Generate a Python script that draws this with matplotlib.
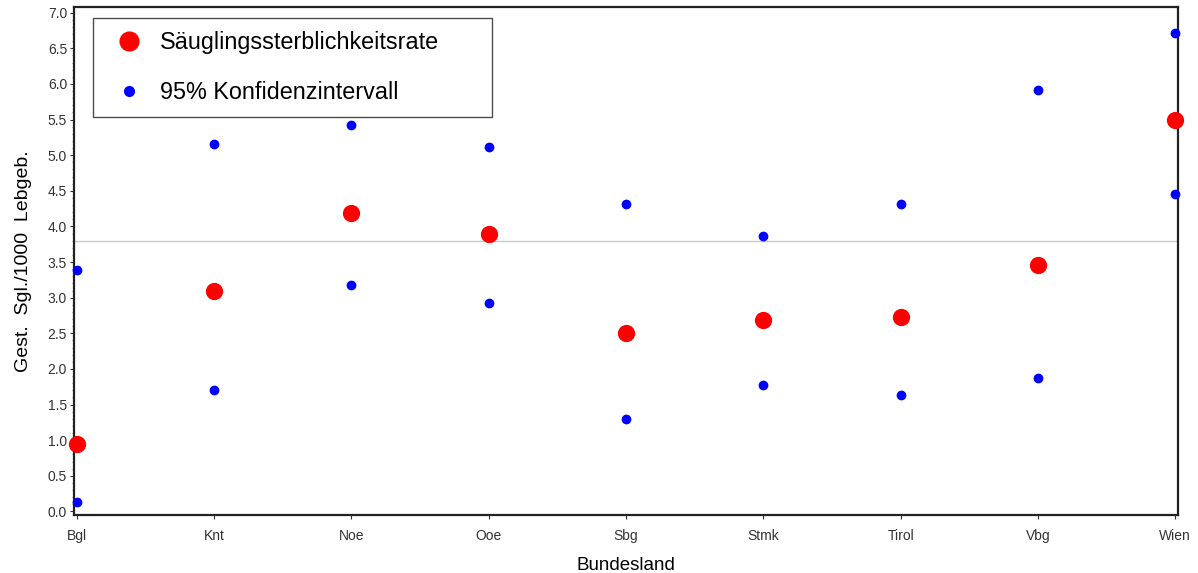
import numpy as np
import matplotlib.pyplot as plt
from matplotlib.ticker import MultipleLocator
from matplotlib.lines import Line2D

# ----------------------------
# Daten
# ----------------------------
bundeslaender = ['Bgl', 'Knt', 'Noe', 'Ooe', 'Sbg', 'Stmk', 'Tirol', 'Vbg', 'Wien']
rate = [0.95, 3.10, 4.19, 3.90, 2.50, 2.68, 2.73, 3.46, 5.50]
ki_oben = [3.39, 5.16, 5.43, 5.11, 4.32, 3.87, 4.31, 5.92, 6.72]
ki_unten = [0.13, 1.70, 3.18, 2.93, 1.30, 1.78, 1.64, 1.87, 4.45]
referenz = 3.80

plt.rcParams['font.family'] = ['Liberation Sans', 'DejaVu Sans']

x = np.arange(len(bundeslaender))

fig = plt.figure(figsize=(11.98, 5.73), dpi=100)
ax = fig.add_axes([0.0618, 0.1012, 0.9215, 0.8866])

ax.axhline(referenz, color='#c8c8c8', linewidth=1, zorder=1)
ax.scatter(x, ki_oben, s=36, color='#0000ff', zorder=3, clip_on=False)
ax.scatter(x, ki_unten, s=36, color='#0000ff', zorder=3, clip_on=False)
ax.scatter(x, rate, s=130, color='#ff0000', zorder=4, clip_on=False)

ax.set_xlim(-0.02, 8.02)
ax.set_ylim(-0.05, 7.08)
ax.set_xticks(x)
ax.set_xticklabels(bundeslaender)
ax.yaxis.set_minor_locator(MultipleLocator(0.1))
ax.set_yticks(np.arange(0, 7.01, 0.5))
ax.set_yticklabels([f'{v:.1f}' for v in np.arange(0, 7.01, 0.5)])
ax.tick_params(axis='both', labelsize=10, colors='#333333', length=3, width=0.8, pad=2)
ax.tick_params(axis='x', pad=7)
ax.tick_params(axis='y', which='minor', length=1.5, width=0.6, colors='#777777')

for sp in ax.spines.values():
    sp.set_linewidth(1.6)
    sp.set_color('#222222')

ax.set_xlabel('Bundesland', fontsize=13.5, labelpad=10)
ax.set_ylabel('Gest.  Sgl./1000  Lebgeb.', fontsize=14, labelpad=11)

# ----------------------------
# Legende
# ----------------------------
handles = [
    Line2D([], [], linestyle='none', marker='o', markersize=13.5,
           color='#ff0000', label='Säuglingssterblichkeitsrate'),
    Line2D([], [], linestyle='none', marker='o', markersize=7,
           color='#0000ff', label='95% Konfidenzintervall'),
]
leg = ax.legend(handles=handles, loc='upper left', mode='expand',
                bbox_to_anchor=(0.0172, 0.783, 0.3614, 0.195), fontsize=16.8,
                frameon=True, fancybox=False, edgecolor='#222222',
                borderpad=0.55, labelspacing=1.15, handlelength=2.0,
                handletextpad=0.3, borderaxespad=0)
leg.get_frame().set_linewidth(1.0)

plt.savefig('out.png', dpi=100)
